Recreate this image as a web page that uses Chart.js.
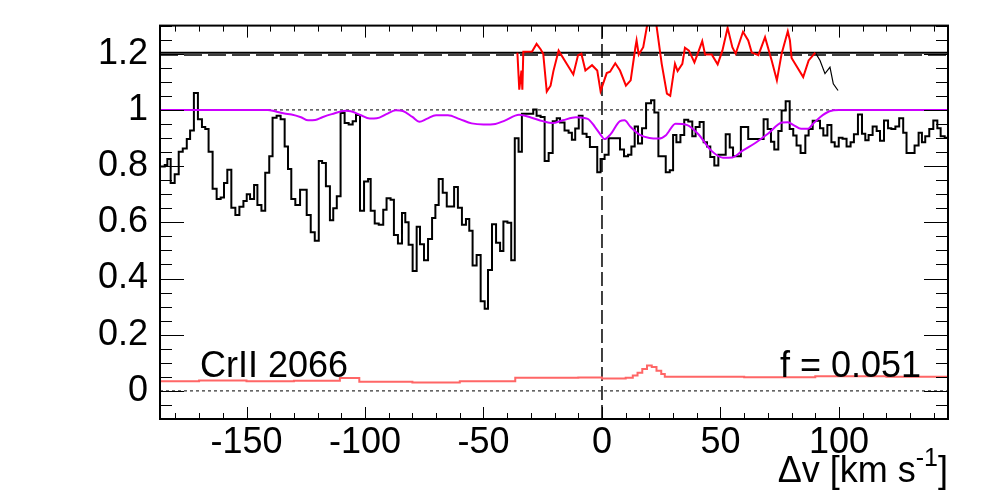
<!DOCTYPE html>
<html>
<head>
<meta charset="utf-8">
<script src="https://cdn.jsdelivr.net/npm/chart.js@4.4.1/dist/chart.umd.min.js"></script>
<style>
html, body { margin: 0; padding: 0; background: #fff; }
</style>
</head>
<body>
<canvas id="spec" width="998" height="499"></canvas>
<script>
// axis ranges and tick labels
const xRange = [-186.5, 146];
const yRange = [-0.1, 1.3];
const xTicks = [-150, -100, -50, 0, 50, 100];
const yTicks = [0, 0.2, 0.4, 0.6, 0.8, 1, 1.2];

// normalised flux, step histogram: left bin edges (km/s) and values
const fluxEdges = [-190, -184.5, -183.4, -182.0, -180.3, -178.6, -176.9, -175.2, -173.8, -172.2,
  -170.5, -168.8, -167.4, -166.0, -164.3, -162.6, -160.9, -159.5, -158.1, -156.4,
  -154.7, -153.0, -151.3, -149.9, -148.5, -146.8, -145.4, -143.7, -142.1, -140.4,
  -139.0, -137.3, -135.6, -133.9, -132.5,
  -131.1, -129.4, -127.4, -124.6, -122.9, -121.2, -119.5, -118.1, -116.5, -114.8,
  -113.4, -111.9, -110.3, -108.6, -106.9, -105.2, -103.8, -102.1, -100.4, -98.7,
  -97.6, -95.9, -94.2, -92.3, -90.9, -89.2, -87.8, -86.1, -84.4, -83.0,
  -81.6, -79.9, -78.2,
  -76.8, -75.1, -73.4, -71.7, -70.3, -68.9, -67.2, -65.5, -62.4, -60.8,
  -59.1, -57.4, -56.0, -54.6, -52.9, -51.2, -49.5, -48.1, -46.4, -44.7,
  -43.0, -41.6, -39.9, -38.3, -36.8, -35.2, -33.8, -29.0, -27.6, -25.9,
  -24.2, -22.5,
  -20.8, -19.1, -17.7, -15.8, -14.1, -12.7, -11.3, -9.8, -8.2, -6.5,
  -5.1, -2.0, -0.6, 1.1, 2.8, 7.6, 9.3, 11.0, 12.4, 13.8,
  15.2, 16.9, 18.6,
  20.7, 22.1, 23.8, 26.9, 28.6, 30.0, 31.4, 33.1, 34.7, 36.4,
  38.1, 39.5, 41.2, 42.9, 44.3, 45.7, 47.4, 49.1, 52.2, 53.9,
  55.3, 58.6, 61.7, 68.2, 69.9, 71.3, 72.7, 74.4, 75.8, 77.5,
  79.2,
  80.7, 82.1, 83.8, 85.8, 87.2, 88.9, 92.0, 93.4, 95.1, 96.8,
  98.2, 99.9, 101.5, 103.2, 104.9, 106.3, 108.0, 109.7, 111.1, 112.5,
  114.2, 115.9, 117.3, 119.0, 120.7, 122.1, 123.8, 125.4, 127.1, 128.5,
  131.9, 133.6, 135.0, 136.4, 138.1, 139.8, 141.5, 142.9, 144.6];
const fluxValues = [0.799, 0.804, 0.825, 0.740, 0.771, 0.851, 0.863, 0.896, 0.927, 1.060,
  0.967, 0.939, 0.932, 0.851, 0.719, 0.683, 0.688, 0.740, 0.787, 0.652,
  0.626, 0.655, 0.676, 0.700, 0.683, 0.733, 0.662, 0.641, 0.776, 0.835,
  0.972, 0.979, 0.967, 0.870, 0.790,
  0.683, 0.662, 0.716, 0.626, 0.565, 0.534, 0.818, 0.811, 0.728, 0.607,
  0.650, 0.693, 0.989, 0.953, 0.948, 0.960, 0.982, 0.641, 0.745, 0.754,
  0.641, 0.596, 0.591, 0.645, 0.686, 0.680, 0.555, 0.525, 0.633, 0.600,
  0.520, 0.427, 0.584,
  0.522, 0.465, 0.541, 0.615, 0.662, 0.754, 0.705, 0.656, 0.726, 0.652,
  0.591, 0.612, 0.570, 0.446, 0.484, 0.319, 0.292, 0.430, 0.593, 0.527,
  0.498, 0.603, 0.598, 0.465, 0.899, 0.851, 0.986, 1.001, 0.979, 0.975,
  0.818, 0.847,
  0.960, 0.970, 0.955, 0.927, 0.919, 0.894, 0.934, 0.979, 0.915, 0.904,
  0.868, 0.778, 0.825, 0.840, 0.899, 0.859, 0.835, 0.840, 0.870, 0.941,
  0.880, 0.935, 1.024,
  1.034, 0.991, 0.835, 0.778, 0.785, 0.911, 0.885, 0.911, 0.965, 0.959,
  0.906, 0.939, 0.957, 0.885, 0.870, 0.832, 0.802, 0.840, 0.913, 0.866,
  0.835, 0.939, 0.896, 0.967, 0.932, 0.887, 0.859, 0.925, 0.998, 1.031,
  0.932,
  0.909, 0.873, 0.847, 0.909, 0.932, 0.961, 0.935, 0.909, 0.946, 0.885,
  0.870, 0.901, 0.897, 0.870, 0.885, 0.913, 0.984, 0.915, 0.892, 0.911,
  0.941, 0.925, 0.890, 0.962, 0.935, 0.932, 0.941, 0.970, 0.919, 0.847,
  0.873, 0.919, 0.885, 0.906, 0.932, 0.962, 0.935, 0.906, 0.901];

// fitted model (magenta)
const modelV = [-190, -141, -138, -134, -131, -127, -124, -121, -118, -114,
  -108, -106, -102, -98, -95, -91, -87, -84, -80, -77,
  -74, -70, -65, -60, -55, -50, -45, -41, -35, -30,
  -25, -21, -16.5, -11, -6, -3, 0, 1, 3.5, 7.6,
  9.5, 12, 16, 20, 24, 27, 31, 36, 40.5, 46,
  51, 55, 59, 65, 70, 76, 78.5, 81, 84, 87,
  89, 92, 96, 100, 150];
const modelY = [1.0, 1.0, 0.995, 0.987, 0.984, 0.974, 0.963, 0.964, 0.974, 0.985,
  0.997, 0.995, 0.982, 0.969, 0.970, 0.985, 0.999, 0.996, 0.975, 0.958,
  0.968, 0.981, 0.981, 0.967, 0.952, 0.948, 0.950, 0.962, 0.983, 0.973,
  0.960, 0.953, 0.963, 0.974, 0.968, 0.940, 0.905, 0.896, 0.912, 0.960,
  0.963, 0.940, 0.911, 0.900, 0.898, 0.910, 0.951, 0.946, 0.915, 0.856,
  0.830, 0.831, 0.853, 0.884, 0.915, 0.955, 0.956, 0.945, 0.933, 0.933,
  0.950, 0.974, 0.995, 1.0, 1.0];

// residuals shifted to 1.2 (red) and the black tail after it
const residV = [-35.7, -34.9, -34.0, -33.6, -33.2, -29.5, -27.6, -25.9, -24.8, -23.3,
  -21.7, -20.5, -18.3, -14.9, -12.1, -10.1, -8.7, -7.0, -4.2, -2.0,
  -0.6, 2.0, 3.4, 5.6, 7.6, 10.1, 12.1, 14.1, 14.6, 15.5,
  17.4, 18.9, 21.0, 22.9, 25.2, 27.4, 28.8, 30.8, 31.9, 33.9,
  35.0, 36.7, 39.0, 40.4, 42.3, 43.5, 46.3, 48.8, 50.8, 53.0,
  55.0, 56.4, 59.5, 61.7, 63.2, 66.0, 68.8, 71.6, 73.8, 75.8,
  78.4, 79.3, 80.0, 84.9, 87.2, 90.0];
const residY = [1.204, 1.072, 1.140, 1.072, 1.207, 1.208, 1.235, 1.216, 1.200, 1.065,
  1.086, 1.138, 1.211, 1.164, 1.126, 1.195, 1.200, 1.140, 1.159, 1.140,
  1.067, 1.131, 1.136, 1.166, 1.140, 1.086, 1.105, 1.223, 1.247, 1.197,
  1.223, 1.294, 1.36, 1.306, 1.164, 1.058, 1.050, 1.164, 1.138, 1.164,
  1.221, 1.211, 1.169, 1.200, 1.245, 1.197, 1.197, 1.162, 1.211, 1.292,
  1.223, 1.200, 1.278, 1.247, 1.204, 1.195, 1.259, 1.176, 1.105, 1.200,
  1.280, 1.247, 1.185, 1.117, 1.176, 1.204];
const tailV = [90.0, 92.0, 94.1, 96.2, 97.6, 99.6];
const tailY = [1.204, 1.176, 1.129, 1.152, 1.093, 1.069];

// error spectrum (pink), steps
const errV = [-190, -170, -150, -130, -110.6, -102.4, -80, -60, -36.6, -10,
  0, 10, 13, 15, 17, 19, 21, 23, 25, 26.5, 60, 90, 120, 150];
const errY = [0.034, 0.037, 0.034, 0.036, 0.046, 0.033, 0.030, 0.034, 0.047, 0.048,
  0.044, 0.047, 0.055, 0.065, 0.078, 0.090, 0.085, 0.072, 0.060, 0.050, 0.049, 0.052, 0.050, 0.050];

// reference levels
const contLevel = 1;
const zeroLevel = 0;
const residLevel = 1.203;
const residLevel2 = 1.195;

const pts = (xs, ys) => xs.map((v, i) => ({x: v, y: ys[i]}));
const hline = (v) => [{x: xRange[0], y: v}, {x: xRange[1], y: v}];

const fluxPts = pts(fluxEdges, fluxValues);
fluxPts.push({x: xRange[1] + 5, y: fluxValues[fluxValues.length - 1]});

const FONT = '"Liberation Sans", Arial, Helvetica, sans-serif';
Chart.defaults.font.family = FONT;
Chart.defaults.color = '#000';

const frameTicks = {
    id: 'frameTicks',
    afterDraw(chart) {
        const {ctx, chartArea: a, scales: {x, y}} = chart;
        ctx.save();
        ctx.strokeStyle = '#000';
        ctx.lineWidth = 1;
        ctx.beginPath();
        for (let v = -180; v <= 140; v += 10) {
            const px = Math.round(x.getPixelForValue(v)) + 0.5;
            const len = v % 50 === 0 ? 12 : 6;
            ctx.moveTo(px, a.bottom); ctx.lineTo(px, a.bottom - len);
            ctx.moveTo(px, a.top); ctx.lineTo(px, a.top + len);
        }
        for (let k = -2; k <= 26; k++) {
            const py = Math.round(y.getPixelForValue(k * 0.05)) + 0.5;
            const len = k % 4 === 0 ? 24 : 12;
            ctx.moveTo(a.left, py); ctx.lineTo(a.left + len, py);
            ctx.moveTo(a.right, py); ctx.lineTo(a.right - len, py);
        }
        ctx.stroke();
        ctx.lineWidth = 2;
        ctx.strokeRect(a.left, a.top, a.right - a.left, a.bottom - a.top);

        ctx.fillStyle = '#000';
        ctx.textBaseline = 'alphabetic';
        ctx.font = '36px ' + FONT;
        ctx.textAlign = 'left';
        ctx.fillText('CrII 2066', 200, 377);
        ctx.textAlign = 'right';
        ctx.fillText('f = 0.051', 921, 377);

        // axis title with superscript
        const base = 482;
        ctx.font = '36px ' + FONT;
        const wEnd = ctx.measureText(']').width;
        ctx.font = '25px ' + FONT;
        const wSup = ctx.measureText('-1').width;
        let xr = a.right;
        ctx.font = '36px ' + FONT;
        ctx.fillText(']', xr, base);
        xr -= wEnd;
        ctx.font = '25px ' + FONT;
        ctx.fillText('-1', xr, base - 16);
        xr -= wSup;
        ctx.font = '36px ' + FONT;
        ctx.fillText('\u0394v [km s', xr, base);
        ctx.restore();
    }
};

new Chart(document.getElementById('spec'), {
    type: 'line',
    data: {
        datasets: [
            {data: pts(modelV, modelY), borderColor: '#cc00ff', borderWidth: 2, cubicInterpolationMode: 'monotone'},
            {data: fluxPts, borderColor: '#000', borderWidth: 2, stepped: 'before'},
            {data: pts(residV, residY), borderColor: '#ff0000', borderWidth: 2},
            {data: pts(tailV, tailY), borderColor: '#000', borderWidth: 1.2},
            {data: pts(errV, errY), borderColor: '#ff6666', borderWidth: 2, stepped: 'before'},
            {data: hline(residLevel), borderColor: '#000', borderWidth: 2},
            {data: hline(residLevel2), borderColor: '#000', borderWidth: 1.5, borderDash: [18, 6]},
            {data: hline(contLevel), borderColor: '#000', borderWidth: 1, borderDash: [3, 3]},
            {data: hline(zeroLevel), borderColor: '#000', borderWidth: 1, borderDash: [3, 3]},
            {data: [{x: 0, y: yRange[0]}, {x: 0, y: yRange[1]}], borderColor: '#000', borderWidth: 1.5, borderDash: [14, 5]}
        ]
    },
    options: {
        responsive: false,
        animation: false,
        devicePixelRatio: 1,
        layout: {padding: {left: 0, right: 50, top: 25, bottom: 0}},
        elements: {point: {radius: 0}, line: {tension: 0, fill: false}},
        plugins: {legend: {display: false}, tooltip: {enabled: false}},
        scales: {
            x: {
                type: 'linear',
                min: xRange[0],
                max: xRange[1],
                grid: {display: false},
                border: {display: false},
                afterBuildTicks: s => { s.ticks = xTicks.map(v => ({value: v})); },
                afterFit: s => { s.height = 80; },
                ticks: {font: {size: 36}, padding: -6, autoSkip: false, maxRotation: 0,
                    callback: v => String(v)}
            },
            y: {
                type: 'linear',
                min: yRange[0],
                max: yRange[1],
                grid: {display: false},
                border: {display: false},
                afterBuildTicks: s => { s.ticks = yTicks.map(v => ({value: v})); },
                afterFit: s => { s.width = 160; },
                ticks: {font: {size: 36}, padding: 4,
                    callback: v => String(Math.round(v * 100) / 100)}
            }
        }
    },
    plugins: [frameTicks]
});
</script>
</body>
</html>
